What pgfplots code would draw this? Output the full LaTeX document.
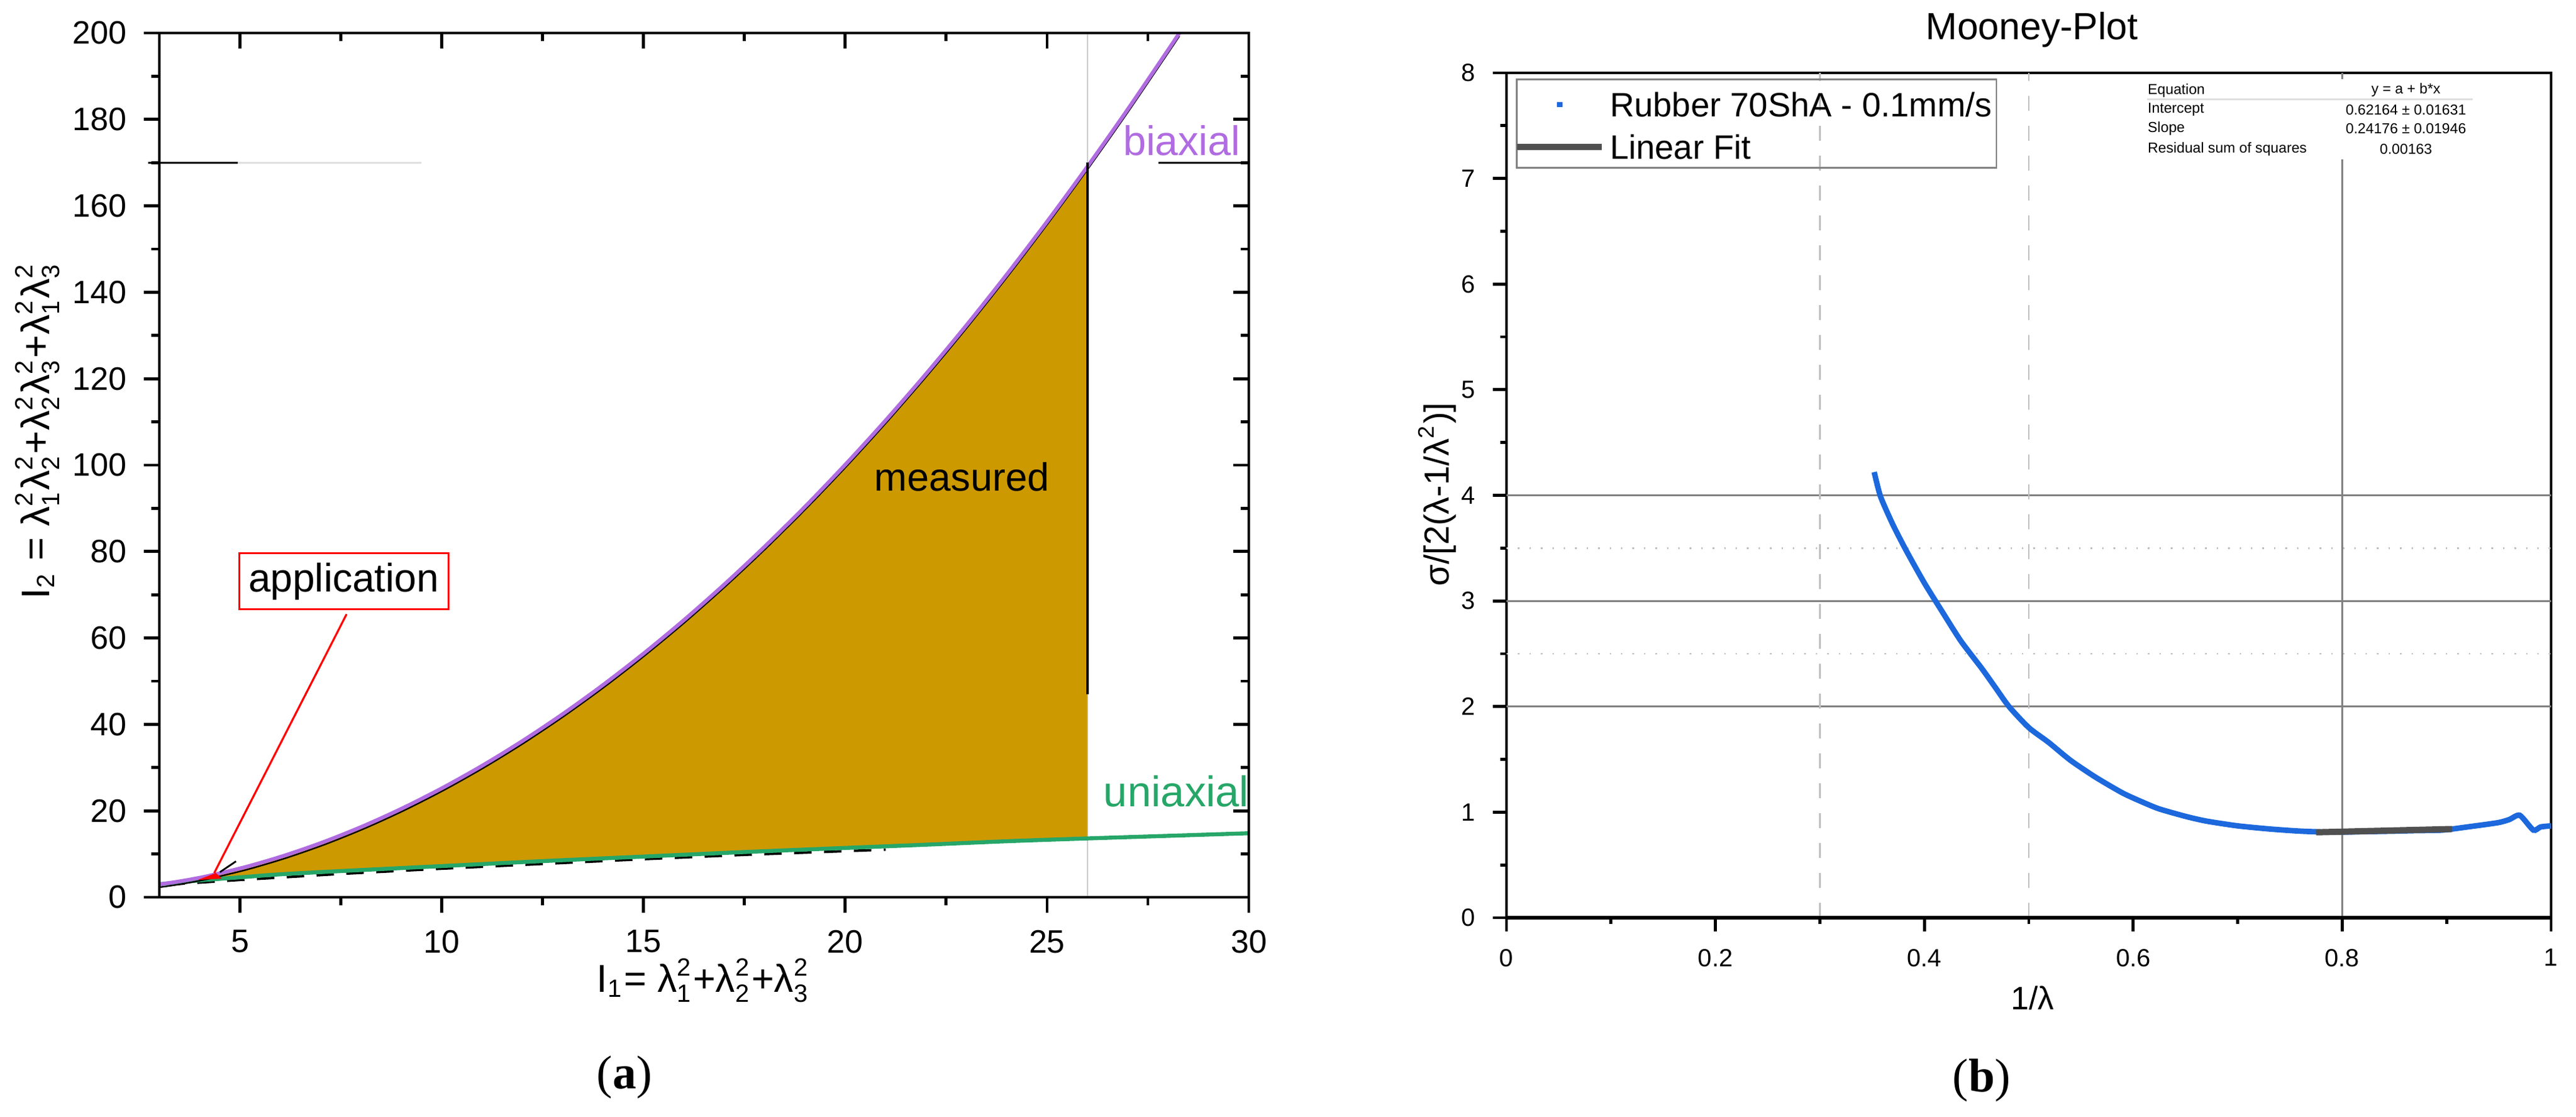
\documentclass[border=0pt]{standalone}
\usepackage{pgfplots}
\pgfplotsset{compat=1.18}
\usepackage{fontspec}
\setmainfont{Liberation Sans}
\newfontfamily\serif{Liberation Serif}
\definecolor{gold}{RGB}{204,153,0}
\definecolor{bipurple}{RGB}{176,108,224}
\definecolor{unigreen}{RGB}{38,166,104}
\definecolor{mblue}{RGB}{28,104,220}
\definecolor{fitgray}{RGB}{80,80,80}
\newcommand{\fs}[1]{\fontsize{#1}{#1}\selectfont}
\newcommand{\ls}[2]{$\mbox{λ}_{\mbox{\fs{5}#1}}^{\mbox{\fs{5}#2}}$}

\pgfplotstableread{
x y
3 3
3.026 3.028
3.14 3.16
3.444 3.583
3.827 4.205
4.25 5.0
5.16 7.05
6.111 9.667
7.082 12.821
8.063 16.5
9.049 20.694
10.04 25.4
11.033 30.614
12.028 36.333
13.024 42.558
14.02 49.286
15.018 56.517
16.016 64.25
17.014 72.485
18.012 81.222
19.011 90.461
20.01 100.2
21.009 110.44
22.008 121.18
23.008 132.42
24.007 144.17
25.006 156.41
26.006 169.15
27.005 182.4
28.005 196.14
28.28 200
}\biaxial

\pgfplotstableread{
x y
3 3
3.026 3.028
3.14 3.16
3.444 3.583
3.827 4.205
4.25 5.0
5.16 7.05
6.111 9.667
7.082 12.821
8.063 16.5
9.049 20.694
10.04 25.4
11.033 30.614
12.028 36.333
13.024 42.558
14.02 49.286
15.018 56.517
16.016 64.25
17.014 72.485
18.012 81.222
19.011 90.461
20.01 100.2
21.009 110.44
22.008 121.18
23.008 132.42
24.007 144.17
25.006 156.41
26.0 168.9
26.0 13.6
24 12.95
22 12.15
20 11.4
17.5 10.45
15 9.4
12.5 8.35
10 7.2
7.5 6.05
6 5.3
5 4.6
4 3.9
3 3
}\measured

\pgfplotstableread{
x y
3 3
4 3.9
5 4.6
6 5.3
7.5 6.05
10 7.2
12.5 8.35
15 9.4
17.5 10.45
20 11.4
22 12.15
24 12.95
26 13.6
28 14.2
30 14.8
}\uniaxial

\pgfplotstableread{
x y
3.2 2.9
5 4.0
7.5 5.4
10 6.6
12.5 7.7
15 8.8
17.5 9.8
21 11.0
}\lowerdash

\pgfplotstableread{
x y
0.352 4.22
0.358 3.99
0.370 3.72
0.383 3.47
0.400 3.17
0.417 2.90
0.435 2.62
0.455 2.36
0.468 2.18
0.481 2.00
0.500 1.80
0.519 1.66
0.540 1.49
0.564 1.33
0.590 1.18
0.610 1.09
0.625 1.03
0.650 0.96
0.670 0.915
0.700 0.87
0.731 0.84
0.760 0.82
0.790 0.81
0.820 0.815
0.850 0.82
0.870 0.825
0.896 0.83
0.920 0.86
0.949 0.90
0.960 0.93
0.970 0.97
0.983 0.83
0.990 0.86
1.000 0.87
}\mooney

\pgfplotstableread{
x y
0.775 0.809
0.905 0.840
}\linfit

\begin{document}
\begin{tikzpicture}[x=1pt,y=1pt]
\useasboundingbox (0,0) rectangle (517.25,224.25);

% ---------------- (a) ----------------
\begin{axis}[at={(32pt,44.125pt)}, anchor=south west, scale only axis,
  width=218.75pt, height=173.5pt,
  xmin=3, xmax=30, ymin=0, ymax=200,
  xtick={5,10,15,20,25,30}, xticklabels={5,10,15,20,25,30},
  ytick={0,20,...,200}, yticklabels={0,20,40,60,80,100,120,140,160,180,200},
  minor xtick={7.5,12.5,17.5,22.5,27.5}, minor ytick={10,30,...,190},
  xtick pos=left, ytick pos=left, tick align=outside,
  major tick length=3.1pt, minor tick length=1.6pt,
  axis line style={line width=0.6pt},
  every tick/.style={black, line width=0.6pt},
  ticklabel style={font=\fs{6.5}},
  clip=false]
\draw[gray!40, line width=0.3pt] (axis cs:26,0) -- (axis cs:26,200);
\addplot[fill=gold, draw=none] table[x=x,y=y] {\measured} -- cycle;
\addplot[black, line width=0.5pt, dash pattern=on 3.5pt off 2.5pt] table[x=x,y=y] {\lowerdash};
\addplot[unigreen, line width=0.8pt, smooth] table[x=x,y=y] {\uniaxial};
\addplot[black, line width=0.3pt, yshift=-0.6pt, smooth] table[x=x,y=y] {\biaxial};
\addplot[bipurple, line width=0.75pt, smooth] table[x=x,y=y] {\biaxial};
\draw[black, line width=0.5pt] (axis cs:26,170) -- (axis cs:26,47);
\draw[black, line width=0.35pt] (axis cs:2.72,170) -- (axis cs:4.95,170);
\draw[gray!25, line width=0.35pt] (axis cs:4.95,170) -- (axis cs:9.5,170);
\draw[black, line width=0.35pt] (axis cs:27.77,170) -- (axis cs:30,170);
\draw[red, line width=0.4pt] (axis cs:7.64,65.5) -- (axis cs:4.36,5.6);
\fill[red] (axis cs:3.95,4.0) -- (axis cs:4.4,5.6) -- (axis cs:4.55,4.3) -- cycle;
\draw[black, line width=0.35pt] (axis cs:4.5,5.8) -- (axis cs:4.9,8.3);
\node[anchor=base west, text=bipurple, font=\fs{8.3}, inner sep=0pt] at (axis cs:26.86,171.7) {biaxial};
\node[anchor=base west, text=unigreen, font=\fs{8.6}, inner sep=0pt] at (axis cs:26.38,21.0) {uniaxial};
\node[anchor=base west, font=\fs{7.9}, inner sep=0pt] at (axis cs:20.70,93.96) {measured};
\node[draw=red, line width=0.35pt, fill=white, font=\fs{8}, minimum width=42pt, minimum height=11.25pt, inner sep=0pt] at (axis cs:7.57,73.1) {application};
\end{axis}
% top/right inward ticks
\begin{axis}[at={(32pt,44.125pt)}, anchor=south west, scale only axis,
  width=218.75pt, height=173.5pt,
  xmin=3, xmax=30, ymin=0, ymax=200,
  xtick={5,10,15,20,25,30}, xticklabels={},
  ytick={0,20,...,200}, yticklabels={},
  minor xtick={7.5,12.5,17.5,22.5,27.5}, minor ytick={10,30,...,190},
  xtick pos=right, ytick pos=right, tick align=inside,
  major tick length=3.1pt, minor tick length=1.6pt,
  axis line style={line width=0.6pt},
  every tick/.style={black, line width=0.6pt}]
\end{axis}

\node[font=\fs{7.8}] at (141.25,27.4) {I$_{\mbox{\fs{5}1}}$= \ls12+\ls22+\ls32};
\node[font=\fs{8}, rotate=90] at (7.5,137.75) {I$_{\mbox{\fs{5}2}}$ = \ls12\ls22+\ls22\ls32+\ls12\ls32};
\node[font=\serif\fs{9.5}] at (125.4,8.0) {(\textbf{a})};

% ---------------- (b) ----------------
\begin{axis}[at={(302.5pt,40pt)}, anchor=south west, scale only axis,
  width=209.75pt, height=169.625pt,
  xmin=0, xmax=1, ymin=0, ymax=8,
  xtick={0,0.2,0.4,0.6,0.8,1}, xticklabels={0,0.2,0.4,0.6,0.8,1}, minor x tick num=1,
  ytick={0,1,...,8}, yticklabels={0,1,2,3,4,5,6,7,8}, minor y tick num=1,
  xtick pos=left, ytick pos=left, tick align=outside,
  major tick length=2.75pt, minor tick length=1.25pt,
  axis line style={line width=0.4pt},
  every tick/.style={black, line width=0.6pt},
  ticklabel style={font=\fs{5}},
  clip=false]
\draw[gray, line width=0.35pt] (axis cs:0,2) -- (axis cs:1,2);
\draw[gray, line width=0.35pt] (axis cs:0,3) -- (axis cs:1,3);
\draw[gray, line width=0.35pt] (axis cs:0,4) -- (axis cs:1,4);
\draw[gray!50, dotted, line width=0.3pt] (axis cs:0,2.5) -- (axis cs:1,2.5);
\draw[gray!50, dotted, line width=0.3pt] (axis cs:0,3.5) -- (axis cs:1,3.5);
\draw[gray!50, dashed, line width=0.3pt] (axis cs:0.3,0) -- (axis cs:0.3,8);
\draw[gray!50, dashed, line width=0.3pt] (axis cs:0.5,0) -- (axis cs:0.5,8);
\draw[gray, line width=0.35pt] (axis cs:0.8,0) -- (axis cs:0.8,8);
\addplot[mblue, line width=1.1pt, smooth, tension=0.4] table[x=x,y=y] {\mooney};
\addplot[fitgray, line width=1.25pt] table[x=x,y=y] {\linfit};
\draw[black, line width=0.8pt] (axis cs:0,0) -- (axis cs:1,0);
% legend
\draw[gray, line width=0.35pt] (axis cs:0.010,7.94) rectangle (axis cs:0.469,7.10);
\fill[mblue] (axis cs:0.051,7.70) ++(-0.55pt,-0.55pt) rectangle ++(1.1pt,1.1pt);
\node[anchor=west, font=\fs{6.8}, inner sep=0pt] at (axis cs:0.098,7.70) {Rubber 70ShA - 0.1mm/s};
\draw[fitgray, line width=1.25pt] (axis cs:0.010,7.30) -- (axis cs:0.091,7.30);
\node[anchor=west, font=\fs{6.8}, inner sep=0pt] at (axis cs:0.098,7.30) {Linear Fit};
% fit table
\fill[white] (axis cs:0.608,7.94) rectangle (axis cs:0.945,7.18);
\draw[gray!25, line width=0.4pt] (axis cs:0.613,7.75) -- (axis cs:0.925,7.75);
\node[anchor=west, font=\fs{2.9}, inner sep=0pt] at (axis cs:0.613,7.83) {Equation};
\node[font=\fs{2.9}, inner sep=0pt] at (axis cs:0.861,7.84) {y = a + b*x};
\node[anchor=west, font=\fs{2.9}, inner sep=0pt] at (axis cs:0.613,7.65) {Intercept};
\node[font=\fs{2.9}, inner sep=0pt] at (axis cs:0.861,7.65) {0.62164 ± 0.01631};
\node[anchor=west, font=\fs{2.9}, inner sep=0pt] at (axis cs:0.613,7.47) {Slope};
\node[font=\fs{2.9}, inner sep=0pt] at (axis cs:0.861,7.47) {0.24176 ± 0.01946};
\node[anchor=west, font=\fs{2.9}, inner sep=0pt] at (axis cs:0.613,7.28) {Residual sum of squares};
\node[font=\fs{2.9}, inner sep=0pt] at (axis cs:0.861,7.28) {0.00163};
\end{axis}

\node[font=\fs{7.6}] at (408,218.25) {Mooney-Plot};
\node[font=\fs{6.5}] at (408.1,23.9) {1/λ};
\node[font=\fs{7}, rotate=90] at (288.6,125) {σ/[2(λ-1/λ$^{\mbox{\fs{4.5}2}}$)]};
\node[font=\serif\fs{9.5}] at (397.9,7.4) {(\textbf{b})};
\end{tikzpicture}
\end{document}
